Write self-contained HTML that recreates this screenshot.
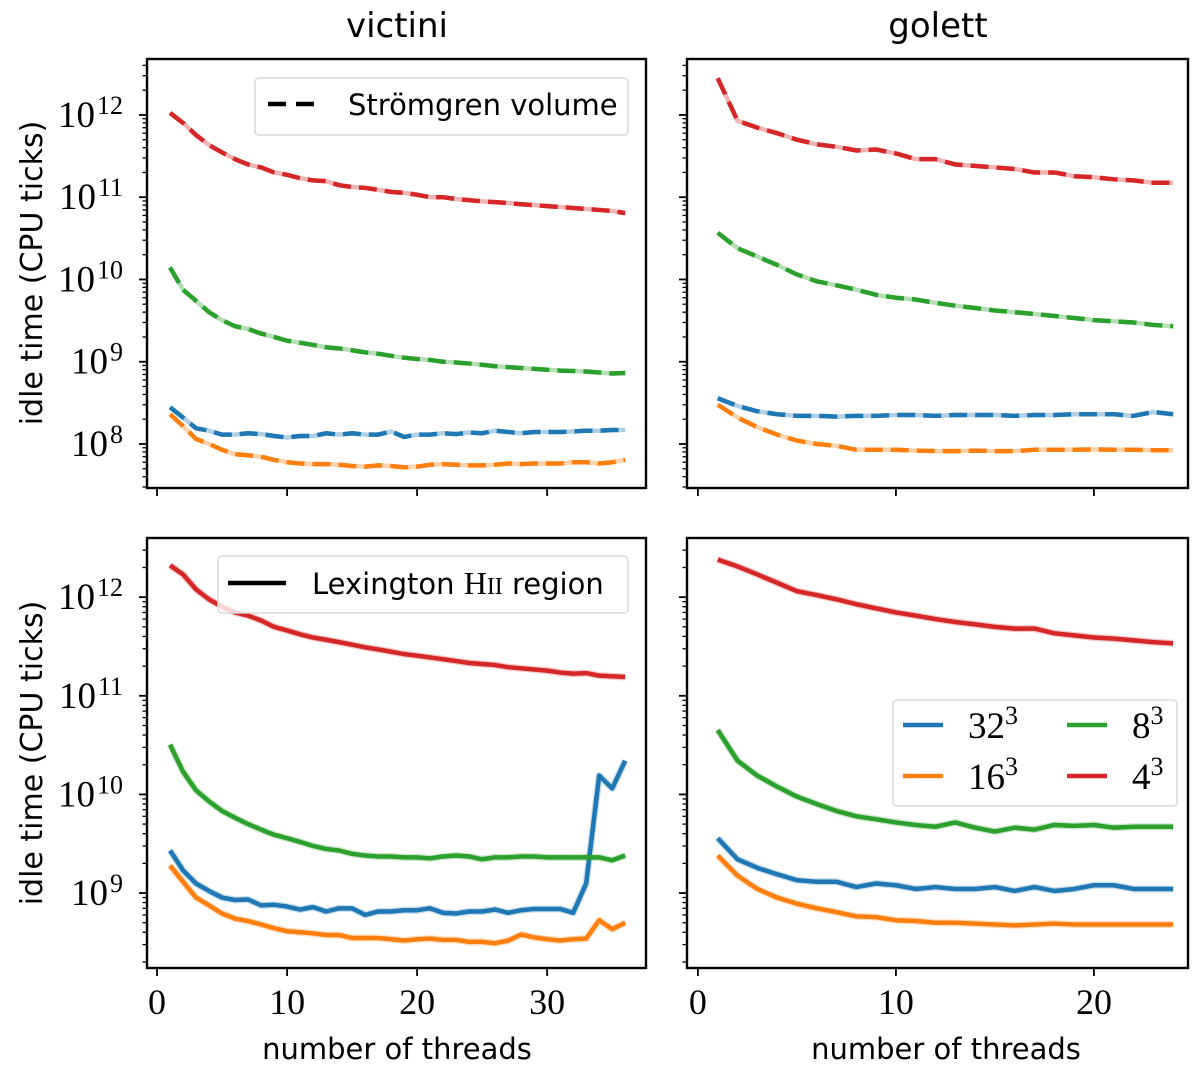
<!DOCTYPE html>
<html><head><meta charset="utf-8"><style>
html,body{margin:0;padding:0;background:#fff;}
svg{display:block;}
</style></head><body>
<svg id="fig" width="1200" height="1065" xmlns="http://www.w3.org/2000/svg">
</svg>
<script>
const xs36 = Array.from({length:36},(_,i)=>i+1);
const xs24 = Array.from({length:24},(_,i)=>i+1);
const seriesNames = ["32^3","16^3","8^3","4^3"];
const colors = {blue:"#1f77b4",orange:"#ff7f0e",green:"#2ca02c",red:"#d62728"};

// victini, Strömgren volume (dashed)
const vsRed = [1.06e12,8.0e11,5.7e11,4.3e11,3.5e11,2.9e11,2.5e11,2.3e11,2.0e11,1.87e11,1.7e11,1.6e11,1.57e11,1.4e11,1.33e11,1.3e11,1.23e11,1.16e11,1.13e11,1.07e11,1.0e11,1.0e11,9.5e10,9.2e10,8.9e10,8.7e10,8.5e10,8.2e10,8.0e10,7.8e10,7.6e10,7.4e10,7.2e10,7.0e10,6.8e10,6.4e10];
const vsGreen = [1.4e10,7.5e9,5.5e9,4e9,3.2e9,2.7e9,2.5e9,2.2e9,2e9,1.8e9,1.7e9,1.6e9,1.5e9,1.45e9,1.38e9,1.3e9,1.25e9,1.18e9,1.12e9,1.08e9,1.05e9,1e9,9.8e8,9.5e8,9.2e8,8.8e8,8.6e8,8.4e8,8.2e8,8e8,7.8e8,7.7e8,7.6e8,7.4e8,7.2e8,7.3e8];
const vsBlue = [2.8e8,2.1e8,1.55e8,1.45e8,1.3e8,1.3e8,1.35e8,1.32e8,1.25e8,1.2e8,1.25e8,1.25e8,1.35e8,1.3e8,1.35e8,1.3e8,1.3e8,1.42e8,1.22e8,1.3e8,1.3e8,1.35e8,1.32e8,1.38e8,1.35e8,1.45e8,1.4e8,1.35e8,1.4e8,1.4e8,1.4e8,1.42e8,1.45e8,1.45e8,1.48e8,1.48e8];
const vsOrange = [2.3e8,1.65e8,1.15e8,1e8,8.5e7,7.5e7,7.3e7,7e7,6.4e7,6e7,5.8e7,5.7e7,5.7e7,5.6e7,5.4e7,5.3e7,5.5e7,5.4e7,5.2e7,5.3e7,5.6e7,5.7e7,5.6e7,5.5e7,5.5e7,5.6e7,5.8e7,5.7e7,5.8e7,5.8e7,5.8e7,6e7,6e7,5.8e7,6e7,6.4e7];
// golett, Strömgren volume (dashed)
const gsRed = [2.8e12,8.5e11,7e11,6e11,5e11,4.4e11,4.1e11,3.7e11,3.8e11,3.4e11,2.9e11,2.9e11,2.5e11,2.4e11,2.3e11,2.2e11,2e11,2e11,1.8e11,1.75e11,1.65e11,1.6e11,1.5e11,1.5e11];
const gsGreen = [3.7e10,2.4e10,1.9e10,1.5e10,1.15e10,9.5e9,8.5e9,7.5e9,6.5e9,6e9,5.7e9,5.2e9,4.8e9,4.5e9,4.2e9,4e9,3.8e9,3.6e9,3.4e9,3.2e9,3.1e9,3e9,2.8e9,2.7e9];
const gsBlue = [3.6e8,2.9e8,2.5e8,2.3e8,2.2e8,2.2e8,2.15e8,2.2e8,2.2e8,2.25e8,2.25e8,2.2e8,2.25e8,2.25e8,2.25e8,2.2e8,2.25e8,2.25e8,2.3e8,2.3e8,2.3e8,2.2e8,2.45e8,2.3e8];
const gsOrange = [3e8,2.1e8,1.6e8,1.3e8,1.1e8,1e8,9.5e7,8.5e7,8.5e7,8.5e7,8.3e7,8.2e7,8.2e7,8.3e7,8.2e7,8.2e7,8.5e7,8.5e7,8.5e7,8.6e7,8.5e7,8.5e7,8.4e7,8.4e7];
// victini, Lexington HII region (solid)
const vlRed = [2.1e12,1.7e12,1.2e12,9.5e11,8e11,7e11,6.5e11,5.8e11,5e11,4.6e11,4.2e11,3.9e11,3.7e11,3.5e11,3.3e11,3.1e11,2.95e11,2.8e11,2.65e11,2.55e11,2.45e11,2.35e11,2.25e11,2.15e11,2.1e11,2.05e11,1.95e11,1.9e11,1.85e11,1.8e11,1.72e11,1.68e11,1.7e11,1.6e11,1.58e11,1.55e11];
const vlGreen = [3.2e10,1.7e10,1.1e10,8.5e9,6.8e9,5.8e9,5e9,4.4e9,3.9e9,3.6e9,3.3e9,3e9,2.8e9,2.7e9,2.5e9,2.4e9,2.35e9,2.35e9,2.3e9,2.3e9,2.25e9,2.35e9,2.4e9,2.35e9,2.2e9,2.3e9,2.3e9,2.35e9,2.35e9,2.3e9,2.3e9,2.3e9,2.3e9,2.3e9,2.15e9,2.4e9];
const vlBlue = [2.7e9,1.7e9,1.25e9,1.05e9,9e8,8.5e8,8.6e8,7.5e8,7.6e8,7.3e8,6.8e8,7.2e8,6.5e8,7e8,7e8,6e8,6.5e8,6.5e8,6.7e8,6.7e8,7e8,6.3e8,6.2e8,6.5e8,6.5e8,6.8e8,6.3e8,6.7e8,6.9e8,6.9e8,6.9e8,6.3e8,1.25e9,1.55e10,1.15e10,2.2e10];
const vlOrange = [1.9e9,1.3e9,9e8,7.5e8,6.2e8,5.5e8,5.2e8,4.8e8,4.4e8,4.1e8,4e8,3.9e8,3.75e8,3.75e8,3.5e8,3.5e8,3.5e8,3.4e8,3.3e8,3.4e8,3.45e8,3.35e8,3.35e8,3.2e8,3.2e8,3.1e8,3.3e8,3.8e8,3.55e8,3.4e8,3.3e8,3.4e8,3.45e8,5.3e8,4.3e8,5e8];
// golett, Lexington HII region (solid)
const glRed = [2.4e12,2.05e12,1.7e12,1.4e12,1.15e12,1.05e12,9.5e11,8.5e11,7.7e11,7e11,6.5e11,6e11,5.6e11,5.3e11,5e11,4.8e11,4.8e11,4.3e11,4.1e11,3.9e11,3.8e11,3.65e11,3.5e11,3.4e11];
const glGreen = [4.5e10,2.2e10,1.55e10,1.2e10,9.5e9,8e9,6.8e9,6e9,5.6e9,5.2e9,4.9e9,4.7e9,5.2e9,4.6e9,4.2e9,4.6e9,4.4e9,4.9e9,4.8e9,4.9e9,4.6e9,4.7e9,4.7e9,4.7e9];
const glBlue = [3.6e9,2.2e9,1.8e9,1.55e9,1.35e9,1.3e9,1.3e9,1.15e9,1.25e9,1.2e9,1.1e9,1.15e9,1.1e9,1.1e9,1.15e9,1.05e9,1.15e9,1.05e9,1.1e9,1.2e9,1.2e9,1.1e9,1.1e9,1.1e9];
const glOrange = [2.4e9,1.5e9,1.1e9,9e8,7.8e8,7e8,6.4e8,5.8e8,5.7e8,5.3e8,5.2e8,5e8,5e8,4.9e8,4.8e8,4.7e8,4.8e8,4.9e8,4.8e8,4.8e8,4.8e8,4.8e8,4.8e8,4.8e8];

const xTicksLeft = [0,10,20,30];
const xTicksRight = [0,10,20];
const yDecadesTop = [8,9,10,11,12];
const yDecadesBottom = [9,10,11,12];

const NS="http://www.w3.org/2000/svg";
const svg=document.getElementById('fig');
function mk(tag,attrs,parent){const e=document.createElementNS(NS,tag);for(const k in attrs)e.setAttribute(k,attrs[k]);(parent||svg).appendChild(e);return e;}

function panel(cfg){
  const {x0,x1,y0,y1,xmin,xmax,lmin,lmax,name}=cfg;
  const g=mk('g',{});
  
  
  const X=v=>x0+(v-xmin)/(xmax-xmin)*(x1-x0);
  const Y=v=>y1-(Math.log10(v)-lmin)/(lmax-lmin)*(y1-y0);
  for(const s of cfg.series){
    const pts=s.xs.map((x,i)=>X(x).toFixed(2)+','+Y(s.ys[i]).toFixed(2)).join(' ');
    if(cfg.dashed){
      const under=mk('polyline',{points:pts,fill:'none',stroke:s.color,'stroke-width':4.5,'stroke-opacity':0.35,'stroke-linejoin':'round'},g);
      
      
      const l=mk('polyline',{points:pts,fill:'none',stroke:s.color,'stroke-width':4.5,'stroke-dasharray':'18,8'},g);
      
      
    } else {
      const under=mk('polyline',{points:pts,fill:'none',stroke:s.color,'stroke-width':7,'stroke-opacity':0.25,'stroke-linejoin':'round'},g);
      
      
      const l=mk('polyline',{points:pts,fill:'none',stroke:s.color,'stroke-width':4.5,'stroke-linejoin':'round'},g);
      
      
    }
  }
  for(let d=Math.floor(lmin);d<=Math.ceil(lmax);d++){
    for(let m=1;m<10;m++){
      const v=m*Math.pow(10,d);const lv=Math.log10(v);
      if(lv<lmin||lv>lmax)continue;
      const y=Y(v);const len=m===1?8:4.5;
      mk('line',{x1:x0-len,x2:x0,y1:y,y2:y,stroke:'#000','stroke-width':m===1?1.8:1.3},g);
    }
  }
  if(cfg.yDecades){
    for(const d of cfg.yDecades){
      const t=mk('text',{x:x0-24,y:Y(Math.pow(10,d))+12,'text-anchor':'end','font-family':'"Liberation Serif",serif','font-size':37},g);
      
      
      t.innerHTML='10<tspan dx="2" dy="-13" font-size="26">'+d+'</tspan>';
    }
  }
  for(const v of cfg.xTicks){
    mk('line',{x1:X(v),x2:X(v),y1:y1,y2:y1+8,stroke:'#000','stroke-width':1.8},g);
    if(cfg.xLabels){
      const t=mk('text',{x:X(v),y:y1+46,'text-anchor':'middle','font-family':'"Liberation Serif",serif','font-size':36},g);
      
      
      t.textContent=v;
    }
  }
  const r=mk('rect',{x:x0,y:y0,width:x1-x0,height:y1-y0,fill:'none',stroke:'#000','stroke-width':2.4},g);
  
  
  return {X,Y};
}
function ser(xs,b,o,g,r){return[
  {name:'series-32',xs,ys:b,color:colors.blue},
  {name:'series-16',xs,ys:o,color:colors.orange},
  {name:'series-8',xs,ys:g,color:colors.green},
  {name:'series-4',xs,ys:r,color:colors.red}];}

panel({name:'panel-victini-stromgren',x0:147,x1:646,y0:59,y1:488,xmin:-0.77,xmax:37.6,lmin:7.465,lmax:12.68,dashed:true,series:ser(xs36,vsBlue,vsOrange,vsGreen,vsRed),yDecades:yDecadesTop,xTicks:xTicksLeft,xLabels:false});
panel({name:'panel-golett-stromgren',x0:687,x1:1188,y0:59,y1:488,xmin:-0.55,xmax:24.75,lmin:7.465,lmax:12.68,dashed:true,series:ser(xs24,gsBlue,gsOrange,gsGreen,gsRed),yDecades:null,xTicks:xTicksRight,xLabels:false});
panel({name:'panel-victini-lexington',x0:147,x1:646,y0:538,y1:968,xmin:-0.77,xmax:37.6,lmin:8.24,lmax:12.6,dashed:false,series:ser(xs36,vlBlue,vlOrange,vlGreen,vlRed),yDecades:yDecadesBottom,xTicks:xTicksLeft,xLabels:true});
panel({name:'panel-golett-lexington',x0:687,x1:1188,y0:538,y1:968,xmin:-0.55,xmax:24.75,lmin:8.24,lmax:12.6,dashed:false,series:ser(xs24,glBlue,glOrange,glGreen,glRed),yDecades:null,xTicks:xTicksRight,xLabels:true});

function txt(x,y,s,size,name,extra){const t=mk('text',Object.assign({x,y,'font-family':'"DejaVu Sans","Liberation Sans",sans-serif','font-size':size},extra||{}));
  
  
  t.textContent=s;return t;}
txt(397,37,'victini',34,'title-victini',{'text-anchor':'middle'});
txt(938,37,'golett',34,'title-golett',{'text-anchor':'middle'});
txt(0,0,'idle time (CPU ticks)',30,'y-axis-title-top',{'text-anchor':'middle',transform:'translate(42,273) rotate(-90)'});
txt(0,0,'idle time (CPU ticks)',30,'y-axis-title-bottom',{'text-anchor':'middle',transform:'translate(42,753) rotate(-90)'});
txt(397,1059,'number of threads',29,'x-axis-title-left',{'text-anchor':'middle'});
txt(946,1059,'number of threads',29,'x-axis-title-right',{'text-anchor':'middle'});

function legBox(x,y,w,h,name){const r=mk('rect',{x,y,width:w,height:h,rx:4,fill:'#fff','fill-opacity':0.8,stroke:'#d9d9d9','stroke-width':1.5});
  
  }
legBox(255,78,373,57,'legend-stromgren');
mk('line',{x1:268,x2:318,y1:104,y2:104,stroke:'#000','stroke-width':4.5,'stroke-dasharray':'18,10'});
txt(348,115,'Strömgren volume',29,'legend-entry-stromgren');
legBox(218,556,410,57,'legend-lexington');
mk('line',{x1:228,x2:286,y1:583,y2:583,stroke:'#000','stroke-width':4.5});
const lx=txt(312,594,'Lexington ',29,'legend-entry-lexington');
lx.innerHTML='Lexington <tspan font-family="Liberation Serif,serif" font-size="32">H</tspan><tspan font-family="Liberation Serif,serif" font-size="24">II</tspan> region';
legBox(893,700,284,106,'legend-resolution');
const ent=[[colors.blue,'32',903,725,968],[colors.green,'8',1067,725,1132],[colors.orange,'16',903,776,968],[colors.red,'4',1067,776,1132]];
for(const e of ent){
  mk('line',{x1:e[2],x2:e[2]+40,y1:e[3],y2:e[3],stroke:e[0],'stroke-width':4.5});
  const t=mk('text',{x:e[4],y:e[3]+13,'font-family':'"Liberation Serif",serif','font-size':37});
  
  
  t.innerHTML=e[1]+'<tspan dy="-14" font-size="26">3</tspan>';
}
</script>
</body></html>
